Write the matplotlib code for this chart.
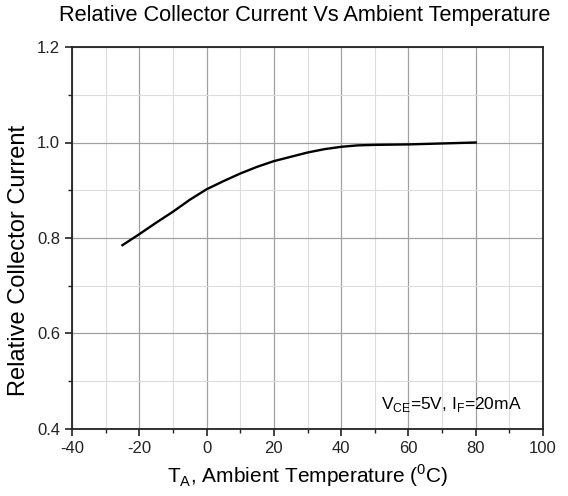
import matplotlib

matplotlib.use("Agg")

import matplotlib.pyplot as plt
from matplotlib.ticker import MultipleLocator

temps = [-25, -20, -15, -10, -5, 0, 5, 10, 15, 20, 25, 30, 35, 40, 45, 50, 60, 70, 80]
rel_current = [0.785, 0.808, 0.832, 0.855, 0.880, 0.902, 0.919, 0.935, 0.949, 0.961,
               0.970, 0.979, 0.986, 0.991, 0.994, 0.995, 0.996, 0.998, 1.0]

plt.rcParams["font.family"] = ["Liberation Sans", "DejaVu Sans"]
plt.rcParams["axes.unicode_minus"] = False
plt.rcParams["mathtext.fontset"] = "custom"
plt.rcParams["mathtext.rm"] = "Liberation Sans"

fig = plt.figure(figsize=(5.68, 4.96), dpi=100)
ax = fig.add_axes([72 / 568, 1 - 429 / 496, 471 / 568, 382 / 496])

ax.plot(temps, rel_current, color="black", lw=1.7)

ax.set_xlim(-40, 100)
ax.set_ylim(0.4, 1.2)
ax.xaxis.set_major_locator(MultipleLocator(20))
ax.xaxis.set_minor_locator(MultipleLocator(10))
ax.yaxis.set_major_locator(MultipleLocator(0.2))
ax.yaxis.set_minor_locator(MultipleLocator(0.1))
ax.yaxis.set_major_formatter(plt.FormatStrFormatter("%.1f"))

ax.grid(which="major", color="#a0a0a0", lw=0.9)
ax.grid(which="minor", color="#dcdcdc", lw=0.8)
ax.set_axisbelow(True)

ax.tick_params(which="major", direction="out", length=5, width=1.2, labelsize=12, colors="#222222")
ax.tick_params(which="minor", direction="out", length=3, width=1.0, colors="#222222")
for s in ax.spines.values():
    s.set_linewidth(1.3)
    s.set_color("#222222")

ax.set_xlabel(r"T$_\mathregular{A}$, Ambient Temperature ($^\mathregular{0}$C)", fontsize=15, labelpad=5)
ax.set_ylabel("Relative Collector Current", fontsize=17)
ax.yaxis.set_label_coords(-0.09, 0.44)
fig.suptitle("Relative Collector Current Vs Ambient Temperature", fontsize=15.7, x=0.537, y=0.99)

ax.text(0.955, 0.04, r"V$_\mathregular{CE}$=5V, I$_\mathregular{F}$=20mA", transform=ax.transAxes,
        ha="right", va="bottom", fontsize=12.5)

fig.savefig("out.png", dpi=100)
